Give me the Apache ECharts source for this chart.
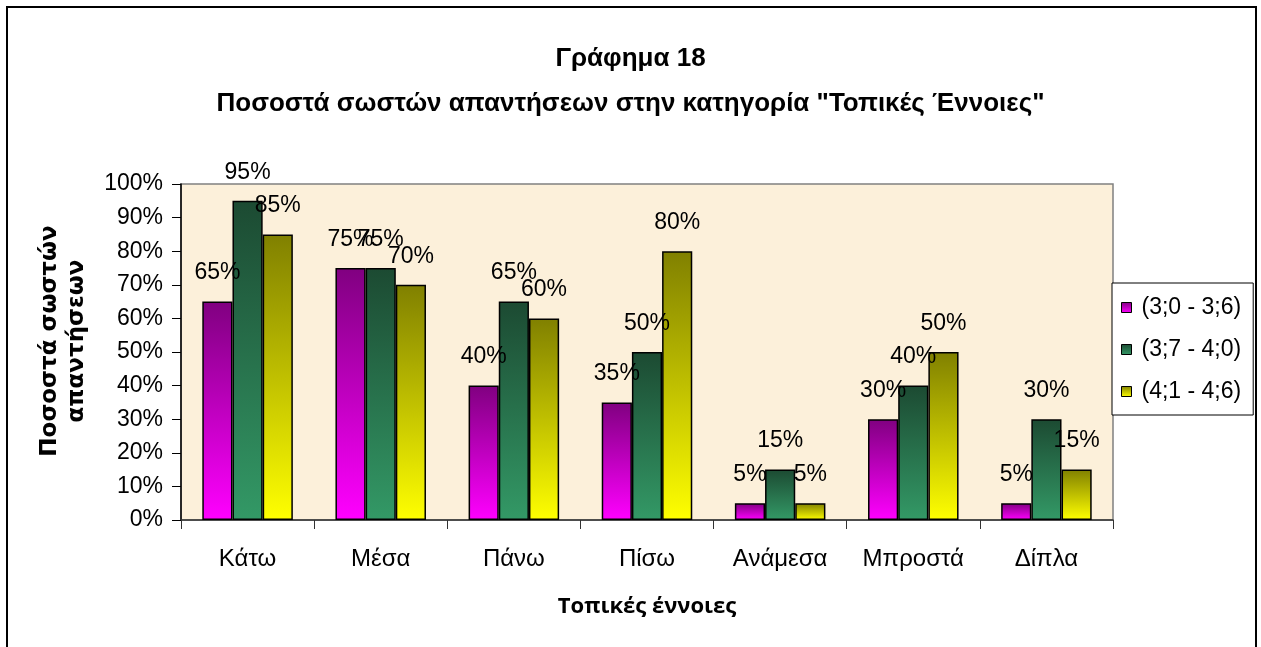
<!DOCTYPE html>
<html><head><meta charset="utf-8">
<script src="https://cdn.jsdelivr.net/npm/echarts@6/dist/echarts.min.js"></script>
<style>html,body{margin:0;padding:0;background:#fff}#c{width:1261px;height:647px}</style>
</head><body><div id="c"></div>
<script>
const categories = ['Κάτω','Μέσα','Πάνω','Πίσω','Ανάμεσα','Μπροστά','Δίπλα'];
const seriesNames = ['(3;0 - 3;6)','(3;7 - 4;0)','(4;1 - 4;6)'];
const age30_36 = [65,75,40,35,5,30,5];
const age37_40 = [95,75,65,50,15,40,30];
const age41_46 = [85,70,60,80,5,50,15];
const yTicks = [0,10,20,30,40,50,60,70,80,90,100];

const grads = [['#800080','#ff00ff'],['#1c4a32','#339966'],['#808000','#ffff00']];
function grad(c){return {type:'linear',x:0,y:0,x2:0,y2:1,colorStops:[{offset:0,color:c[0]},{offset:1,color:c[1]}]};}
const datasets=[age30_36,age37_40,age41_46];
const chart = echarts.init(document.getElementById('c'));
chart.setOption({
  backgroundColor:'#fff',
  animation:false,
  title:{text:'Γράφημα 18\nΠοσοστά σωστών απαντήσεων στην κατηγορία "Τοπικές Έννοιες"',left:'center',top:31,
    textStyle:{fontFamily:'Liberation Sans',fontWeight:'bold',fontSize:26,lineHeight:45,color:'#000'}},
  graphic:[
    {type:'rect',shape:{x:7,y:7,width:1249,height:700},style:{fill:'none',stroke:'#000',lineWidth:2},silent:true},
    {type:'text',x:64,y:341,rotation:Math.PI/2,silent:true,
      style:{text:'Ποσοστά σωστών\nαπαντήσεων',align:'center',verticalAlign:'middle',
        font:'bold 23px "DejaVu Sans"',lineHeight:27,fill:'#000'}}
  ],
  legend:{orient:'vertical',left:1112,top:283,padding:[13,12,12,9],itemGap:19,itemWidth:10,itemHeight:10,
    backgroundColor:'#fff',borderColor:'#000',borderWidth:1,
    itemStyle:{borderColor:'#000',borderWidth:1},
    textStyle:{fontFamily:'Liberation Sans',fontSize:23,color:'#000',padding:[0,0,0,5]},
    data:seriesNames.map(n=>({name:n,icon:'rect'}))},
  grid:{left:181,top:184,right:148,bottom:127,show:true,backgroundColor:'#fcf0da',borderColor:'#808080',borderWidth:1.5},
  xAxis:{type:'category',data:categories,
    axisLine:{lineStyle:{color:'#333',width:1.5}},
    axisTick:{show:true,length:9,lineStyle:{color:'#333'}},
    axisLabel:{fontFamily:'Liberation Sans',fontSize:24,color:'#000',margin:27},
    name:'Τοπικές έννοιες',nameLocation:'middle',nameGap:76,
    nameTextStyle:{fontFamily:'Open Sans',fontWeight:'bold',fontSize:22,color:'#000'}},
  yAxis:{type:'value',min:0,max:100,interval:10,
    axisLine:{show:true,lineStyle:{color:'#000',width:1.5}},
    axisTick:{show:true,length:9,lineStyle:{color:'#000'}},
    splitLine:{show:false},
    axisLabel:{fontFamily:'Liberation Sans',fontSize:23,color:'#000',margin:18,formatter:v=>v+'%'}},
  series:datasets.map((d,i)=>({
    name:seriesNames[i],type:'bar',data:d,barGap:'0%',barCategoryGap:'32%',
    itemStyle:{color:grad(grads[i]),borderColor:'#000',borderWidth:1.5},
    label:{show:true,position:'top',distance:17,formatter:p=>p.value+'%',fontFamily:'Liberation Sans',fontSize:23,color:'#000'}
  }))
});
</script></body></html>
